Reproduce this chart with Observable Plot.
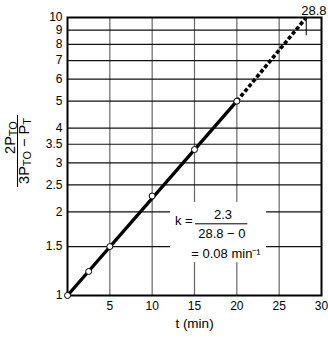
<!DOCTYPE html>
<html>
<head>
<meta charset="utf-8">
<script src="https://cdn.jsdelivr.net/npm/d3@7"></script>
<script src="https://cdn.jsdelivr.net/npm/@observablehq/plot@0.6"></script>
<style>
  html, body { margin: 0; padding: 0; background: white; }
  svg { display: block; }
</style>
</head>
<body>
<div id="chart"></div>
<script>
// ---- data ----
const xTicks = [5, 10, 15, 20, 25, 30];
const yTicks = [1, 1.5, 2, 2.5, 3, 3.5, 4, 5, 6, 7, 8, 9, 10];
const xGrid = [5, 10, 15, 20, 25];
const yGrid = [1.5, 2, 2.5, 3, 3.5, 4, 5, 6, 7, 8, 9];

const pointT = [0, 2.5, 5, 10, 15, 20];
const pointV = [1, 1.22, 1.5, 2.28, 3.35, 5.0];

const solidT = [0, 20];
const solidV = [1, 5];
const dashT = [20, 28.2];
const dashV = [5, 10];

// annotation (data coordinates)
const markerT = 28.2;
const markerV = [8.6, 10];
const markerLabel = "28.8";
const markerLabelPos = [29.1, 10.6];

const boxX = [12.17, 23.5];
const boxY = [1.314, 2.16];

const annoText = ["k =", "2.3", "28.8 \u2212 0", "= 0.08 min\u207B\u00B9"];
const annoX = [13.74, 18.37, 18.23, 18.72];
const annoY = [1.85, 1.953, 1.671, 1.416];
const fracBarY = 1.811;
const fracBarX = [15.12, 21.3];

const xLabel = "t (min)";

// ---- build ----
const pts = pointT.map((t, i) => ({t, v: pointV[i]}));
const solid = solidT.map((t, i) => ({t, v: solidV[i]}));
const dash = dashT.map((t, i) => ({t, v: dashV[i]}));
const anno = annoText.map((s, i) => ({s, x: annoX[i], y: annoY[i]}));

const font = "'Liberation Sans', Arial, Helvetica, sans-serif";

const chart = Plot.plot({
  width: 328,
  height: 364,
  marginLeft: 67,
  marginRight: 7,
  marginTop: 17,
  marginBottom: 69,
  style: {fontFamily: font, fontSize: "12px", background: "white", color: "black", overflow: "visible"},
  x: {domain: [0, 30], ticks: xTicks, tickSize: 0, tickPadding: 6, label: null},
  y: {type: "log", domain: [1, 10], ticks: yTicks, tickFormat: d => String(d), tickSize: 0, tickPadding: 5, label: null},
  marks: [
    Plot.ruleX(xGrid, {stroke: "#666", strokeWidth: 1.2}),
    Plot.ruleY(yGrid, {stroke: "#111", strokeWidth: 1.2}),
    Plot.rect([0], {x1: () => boxX[0], x2: () => boxX[1], y1: () => boxY[0], y2: () => boxY[1], fill: "white"}),
    Plot.frame({stroke: "black", strokeWidth: 2}),
    Plot.line(solid, {x: "t", y: "v", stroke: "black", strokeWidth: 3.4}),
    Plot.line(dash, {x: "t", y: "v", stroke: "black", strokeWidth: 3.6, strokeDasharray: "4,2.2", strokeLinecap: "butt"}),
    Plot.dot(pts, {x: "t", y: "v", r: 3, fill: "white", stroke: "black", strokeWidth: 1}),
    Plot.ruleX([markerT], {y1: markerV[0], y2: markerV[1], stroke: "black", strokeWidth: 1}),
    Plot.text([markerLabel], {x: () => markerLabelPos[0], y: () => markerLabelPos[1], text: d => d, fontSize: 13, lineAnchor: "middle"}),
    Plot.ruleY([fracBarY], {x1: fracBarX[0], x2: fracBarX[1], stroke: "black", strokeWidth: 1}),
    Plot.text(anno, {x: "x", y: "y", text: "s", fontSize: 13, lineAnchor: "middle"}),
    Plot.text([xLabel], {text: d => d, frameAnchor: "bottom", dy: 28, lineAnchor: "middle", fontSize: 13.5})
  ]
});

document.getElementById("chart").appendChild(chart);

// y-axis label: fraction with subscripts
const svg = d3.select(chart.tagName.toLowerCase() === "svg" ? chart : chart.querySelector("svg"));
const g = svg.append("g").attr("font-family", font).attr("fill", "black");
const num = g.append("text")
  .attr("transform", "translate(14.5,137.5) rotate(-90)")
  .attr("text-anchor", "middle")
  .attr("font-size", 14.5);
num.append("tspan").text("2P");
num.append("tspan").attr("font-size", 11).attr("dy", 2).text("TO");

g.append("line")
  .attr("x1", 17.5).attr("x2", 17.5)
  .attr("y1", 115).attr("y2", 187)
  .attr("stroke", "black").attr("stroke-width", 1);

const den = g.append("text")
  .attr("transform", "translate(29,151) rotate(-90)")
  .attr("text-anchor", "middle")
  .attr("font-size", 14.5);
den.append("tspan").text("3P");
den.append("tspan").attr("font-size", 11).attr("dy", 2).text("TO");
den.append("tspan").attr("dy", -2).text(" \u2212 P");
den.append("tspan").attr("font-size", 11).attr("dy", 2).text("T");
</script>
</body>
</html>
